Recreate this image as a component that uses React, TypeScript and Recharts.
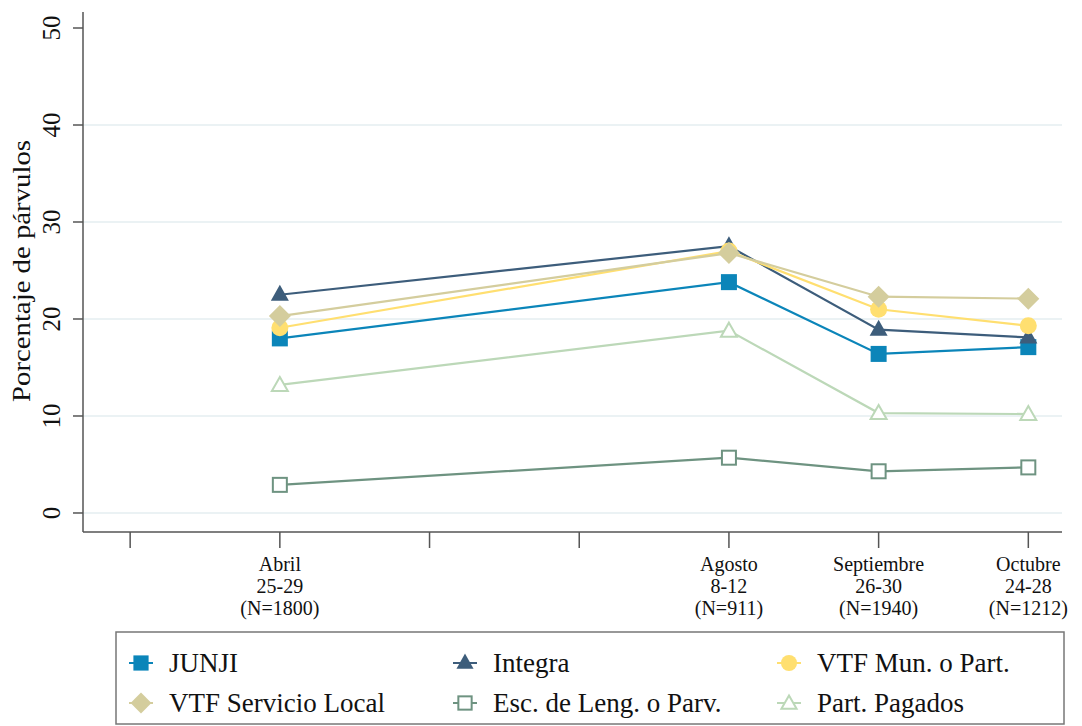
import React from "react";
import {Label, Line, LineChart, ReferenceLine, XAxis, YAxis} from "recharts";

// x positions (0..6 ticks), only 1,4,5,6 hold data
const periods = [1, 4, 5, 6];
const periodLabels: Record<number, string[]> = {
    1: ["Abril", "25-29", "(N=1800)"],
    4: ["Agosto", "8-12", "(N=911)"],
    5: ["Septiembre", "26-30", "(N=1940)"],
    6: ["Octubre", "24-28", "(N=1212)"],
};

const junji = [18.0, 23.8, 16.4, 17.1];
const integra = [22.5, 27.5, 18.9, 18.1];
const vtfMun = [19.1, 27.0, 21.0, 19.3];
const vtfLocal = [20.3, 26.8, 22.3, 22.1];
const escLeng = [2.9, 5.7, 4.3, 4.7];
const partPagados = [13.2, 18.8, 10.3, 10.2];

const yTicks = [0, 10, 20, 30, 40, 50];
const xTicks = [0, 1, 2, 3, 4, 5, 6];

type Shape = 'square' | 'triangle' | 'circle' | 'diamond' | 'hsquare' | 'htriangle';

const series: { key: string; name: string; color: string; shape: Shape; values: number[] }[] = [
    {key: "junji", name: "JUNJI", color: "#0b85b9", shape: "square", values: junji},
    {key: "integra", name: "Integra", color: "#3d5d7b", shape: "triangle", values: integra},
    {key: "vtfMun", name: "VTF Mun. o Part.", color: "#ffdf70", shape: "circle", values: vtfMun},
    {key: "vtfLocal", name: "VTF Servicio Local", color: "#d4cd9d", shape: "diamond", values: vtfLocal},
    {key: "escLeng", name: "Esc. de Leng. o Parv.", color: "#6e9381", shape: "hsquare", values: escLeng},
    {key: "partPagados", name: "Part. Pagados", color: "#bcd8b8", shape: "htriangle", values: partPagados},
];

const data = periods.map((p, i) => {
    const row: Record<string, number> = {x: p};
    series.forEach(s => { row[s.key] = s.values[i]; });
    return row;
});

const FONT = "'Liberation Serif', 'Times New Roman', serif";

const Marker = ({shape, color, cx, cy, scale = 1}: { shape: Shape; color: string; cx: number; cy: number; scale?: number }) => {
    const s = scale;
    switch (shape) {
        case 'square':
            return <rect x={cx - 8 * s} y={cy - 8 * s} width={16 * s} height={16 * s} fill={color}/>;
        case 'triangle':
            return <polygon points={`${cx},${cy - 10 * s} ${cx + 9 * s},${cy + 6 * s} ${cx - 9 * s},${cy + 6 * s}`} fill={color}/>;
        case 'circle':
            return <circle cx={cx} cy={cy} r={8.5 * s} fill={color}/>;
        case 'diamond':
            return <polygon points={`${cx},${cy - 11 * s} ${cx + 11 * s},${cy} ${cx},${cy + 11 * s} ${cx - 11 * s},${cy}`} fill={color}/>;
        case 'hsquare':
            return <rect x={cx - 7 * s} y={cy - 7 * s} width={14 * s} height={14 * s} fill="#fff" stroke={color} strokeWidth={2}/>;
        case 'htriangle':
            return <polygon points={`${cx},${cy - 8 * s} ${cx + 8 * s},${cy + 6 * s} ${cx - 8 * s},${cy + 6 * s}`} fill="#fff" stroke={color} strokeWidth={2}/>;
    }
};

const XTick = (props: any) => {
    const {x, y, payload} = props;
    const lines = periodLabels[payload.value];
    if (!lines) return null;
    return (
        <text x={x} textAnchor="middle" fontFamily={FONT} fontSize={20} fill="#111">
            {lines.map((l, i) => (
                <tspan key={i} x={x} y={y + 23 + i * 22}>{l}</tspan>
            ))}
        </text>
    );
};

const YTick = (props: any) => {
    const {y, payload} = props;
    return (
        <text x={0} y={0} transform={`translate(60, ${y}) rotate(-90)`} textAnchor="middle"
              fontFamily={FONT} fontSize={25} fill="#111">
            {payload.value}
        </text>
    );
};

const legendRows = [
    [{s: series[0], x: 141}, {s: series[1], x: 465}, {s: series[2], x: 789}],
    [{s: series[3], x: 141}, {s: series[4], x: 465}, {s: series[5], x: 789}],
];

export default function App() {
    return (
        <div style={{position: 'absolute', left: 0, top: 0, width: 1082, height: 726, background: '#fff'}}>
            <LineChart width={1082} height={726} data={data}
                       margin={{top: 12, right: 20, bottom: 104, left: 0}}>
                {yTicks.slice(0, 5).map(v => (
                    <ReferenceLine key={v} y={v} stroke="#e4eef1" strokeWidth={1.5}/>
                ))}
                <XAxis dataKey="x" type="number" domain={[-0.315, 6.225]} ticks={xTicks} allowDataOverflow
                       height={90} tickSize={16} tickMargin={0} tick={<XTick/>}
                       axisLine={{stroke: '#555', strokeWidth: 1.5}} tickLine={{stroke: '#555', strokeWidth: 1.5}}/>
                <YAxis type="number" domain={[-1.96, 51.65]} ticks={yTicks} allowDataOverflow
                       width={83} tickSize={10} tick={<YTick/>}
                       axisLine={{stroke: '#555', strokeWidth: 1.5}} tickLine={{stroke: '#555', strokeWidth: 1.5}}>
                    <Label content={() => (
                        <text x={0} y={0} transform="translate(30, 271) rotate(-90)" textAnchor="middle"
                              fontFamily={FONT} fontSize={26} fill="#111" textLength={262}
                              lengthAdjust="spacingAndGlyphs">
                            Porcentaje de párvulos
                        </text>
                    )}/>
                </YAxis>
                {series.map(s => (
                    <Line key={s.key} dataKey={s.key} name={s.name} type="linear" stroke={s.color} strokeWidth={2.2}
                          isAnimationActive={false}
                          dot={(p: any) => <Marker key={`${s.key}-${p.index}`} shape={s.shape} color={s.color} cx={p.cx} cy={p.cy}/>}
                          activeDot={false}/>
                ))}
            </LineChart>
            <svg width={1082} height={726} style={{position: 'absolute', left: 0, top: 0, pointerEvents: 'none'}}>
                <rect x={116} y={632} width={948} height={92} fill="#fff" stroke="#777" strokeWidth={1.5}/>
                {legendRows.map((row, ri) => row.map(({s, x}) => {
                    const cy = 663 + ri * 40;
                    return (
                        <g key={s.key}>
                            <line x1={x - 12} x2={x + 12} y1={cy} y2={cy} stroke={s.color} strokeWidth={2}/>
                            <Marker shape={s.shape} color={s.color} cx={x} cy={cy} scale={0.95}/>
                            <text x={x + 28} y={cy + 9} fontFamily={FONT} fontSize={27} fill="#111">{s.name}</text>
                        </g>
                    );
                }))}
            </svg>
        </div>
    );
}
